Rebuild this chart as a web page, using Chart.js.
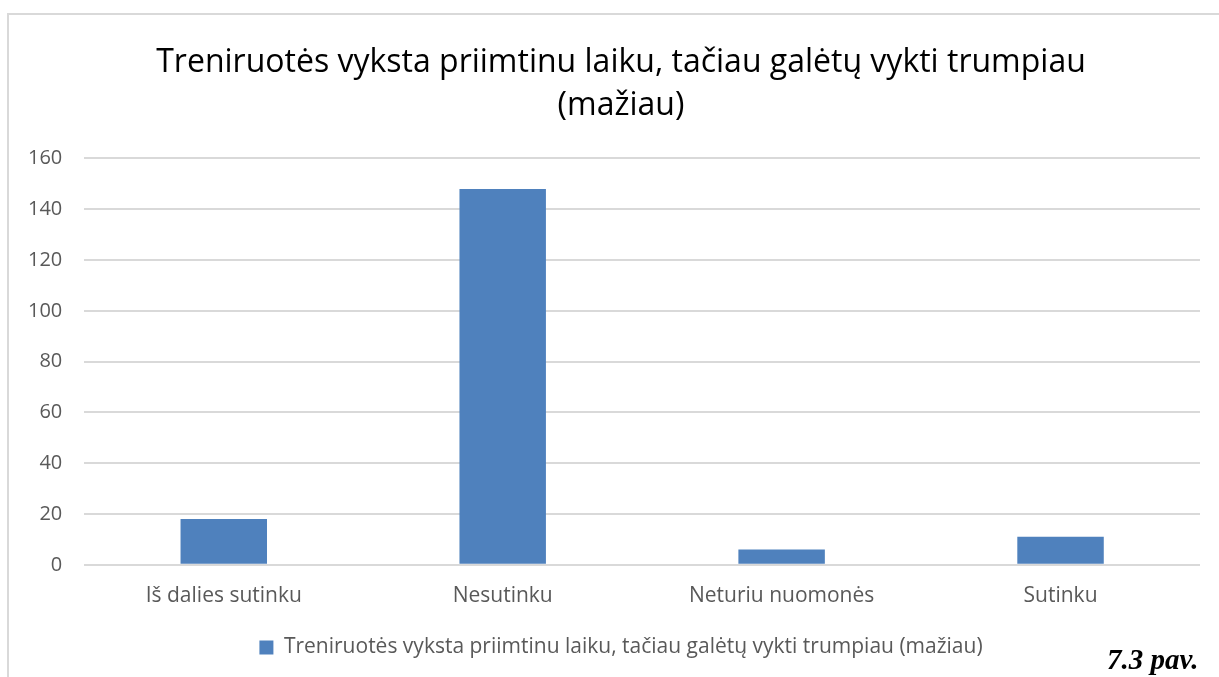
<!DOCTYPE html>
<html>
<head>
<meta charset="utf-8">
<script src="https://cdn.jsdelivr.net/npm/chart.js@4"></script>
<style>
    html, body { margin: 0; padding: 0; background: #fff; overflow: hidden; }
    #frame {
        position: absolute; left: 7px; top: 13px; width: 1230px; height: 700px;
        border-left: 2px solid #d9d9d9; border-top: 2px solid #d9d9d9;
    }
    #wrap { position: absolute; left: 6px; top: 15px; width: 1230px; height: 662px; }
    #caption {
        position: absolute; left: 1107px; top: 643px;
        font-family: "Liberation Serif", serif; font-weight: bold; font-style: italic;
        font-size: 29px; color: #000;
    }
</style>
</head>
<body>
<div id="frame"></div>
<div id="wrap"><canvas id="barChart"></canvas></div>
<div id="caption">7.3 pav.</div>
<script>
    // categories and values
    var categories = ['Iš dalies sutinku', 'Nesutinku', 'Neturiu nuomonės', 'Sutinku']
    var answers = [18, 148, 6, 11]
    var yTicks = [0, 20, 40, 60, 80, 100, 120, 140, 160]
    var seriesName = 'Treniruotės vyksta priimtinu laiku, tačiau galėtų vykti trumpiau (mažiau)'

    var data = {
        labels: categories,
        datasets: [
            {
                label: seriesName,
                backgroundColor: '#4f81bd',
                borderColor: '#4f81bd',
                borderWidth: 0,
                data: answers,
                barPercentage: 0.31,
                categoryPercentage: 1,
            },
        ],
    }

    var config = {
        type: 'bar',
        data: data,
        options: {
            responsive: true,
            maintainAspectRatio: false,
            animation: false,
            layout: { padding: { left: 0, right: 0, top: 8, bottom: 9 } },
            plugins: {
                title: {
                    display: true,
                    text: ['Treniruotės vyksta priimtinu laiku, tačiau galėtų vykti trumpiau', '(mažiau)'],
                    color: '#000',
                    font: { family: 'Open Sans', size: 32, weight: 'normal', lineHeight: 1.35 },
                    padding: { top: 18, bottom: 31 },
                },
                legend: {
                    position: 'bottom',
                    labels: {
                        color: '#595959',
                        font: { family: 'Open Sans', size: 21 },
                        boxWidth: 14,
                        boxHeight: 14,
                        padding: 17,
                    },
                },
                tooltip: { enabled: false },
            },
            scales: {
                x: {
                    grid: { display: false },
                    border: { display: false },
                    ticks: { color: '#595959', font: { family: 'Open Sans', size: 21 }, padding: 11 },
                },
                y: {
                    min: 0,
                    max: 160,
                    afterBuildTicks: function (axis) {
                        axis.ticks = yTicks.map(function (v) { return { value: v } })
                    },
                    grid: { color: '#d9d9d9', lineWidth: 2, drawTicks: false },
                    border: { display: false },
                    ticks: { color: '#595959', font: { family: 'Open Sans', size: 20 }, padding: 22 },
                },
                // empty right axis, only keeps room on the right side
                y2: {
                    position: 'right',
                    grid: { display: false, drawTicks: false },
                    border: { display: false },
                    ticks: { display: false },
                    afterFit: function (axis) { axis.width = 36 },
                },
            },
        },
    }

    var canvas = document.getElementById('barChart')
    var chart = new Chart(canvas, config)
</script>
</body>
</html>
